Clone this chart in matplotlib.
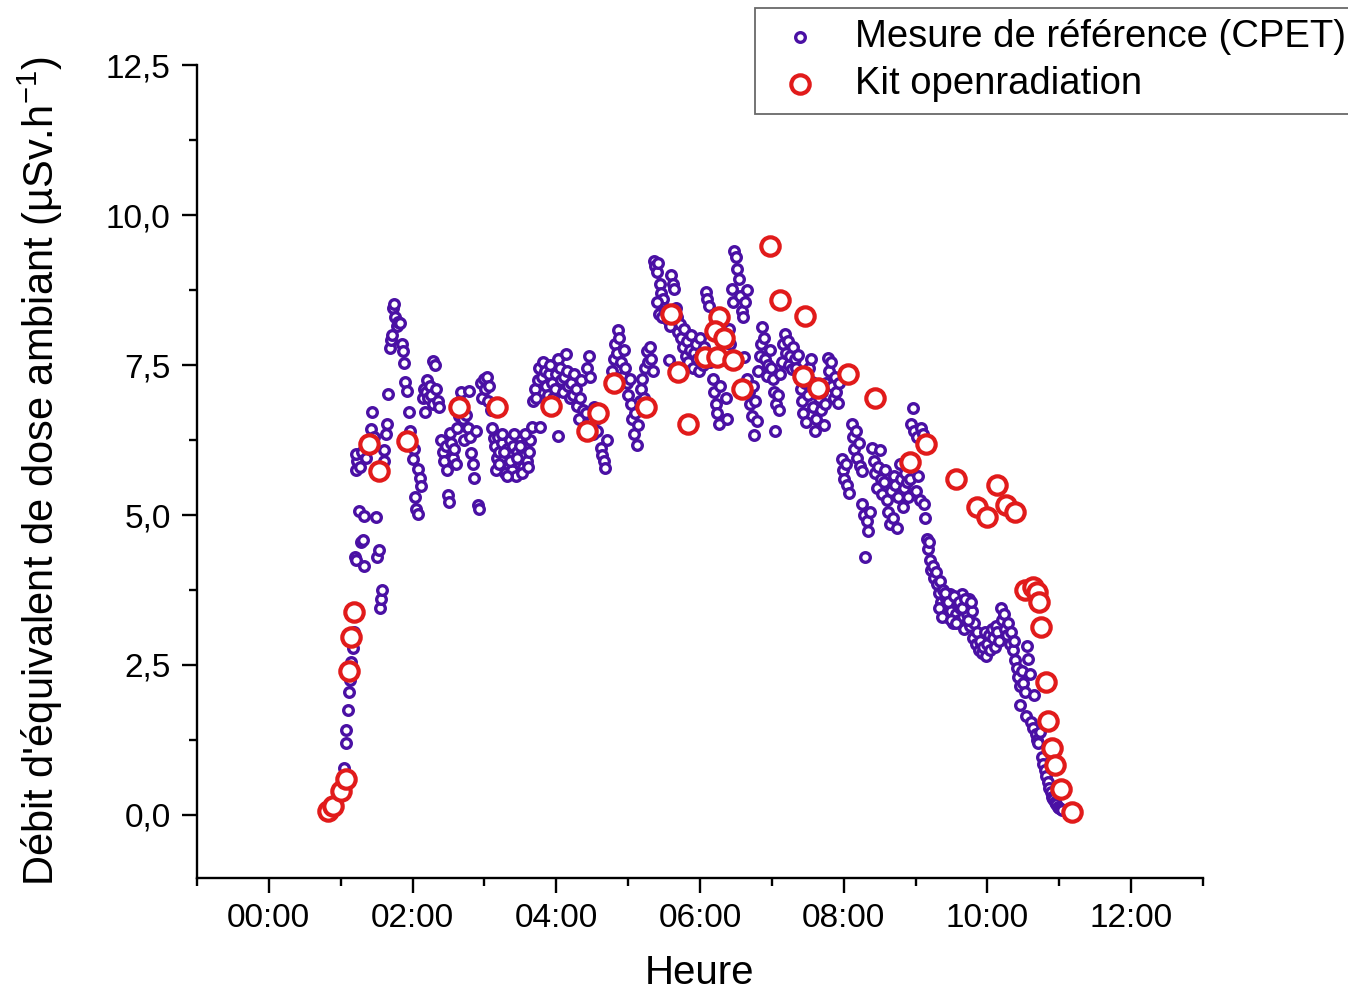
import matplotlib
matplotlib.use('Agg')
import matplotlib.pyplot as plt
from matplotlib.ticker import MultipleLocator, FuncFormatter

plt.rcParams['font.family'] = ['Liberation Sans', 'DejaVu Sans']
plt.rcParams['mathtext.fontset'] = 'custom'
plt.rcParams['mathtext.rm'] = 'Liberation Sans'
plt.rcParams['mathtext.it'] = 'Liberation Sans'

# reference measurement (CPET), time in hours, dose rate in uSv/h
cpet_h = [
    # rise
    0.87, 0.92, 0.97, 1.02, 1.05, 1.07, 1.08, 1.10, 1.12, 1.13, 1.15, 1.17, 1.18,
    1.20, 1.22, 1.21, 1.23, 1.22, 1.25, 1.27, 1.28, 1.30, 1.31, 1.32, 1.32, 1.35, 1.38, 1.42, 1.44, 1.46, 1.49, 1.51, 1.53, 1.55, 1.56, 1.57,
    1.60, 1.61, 1.63, 1.64, 1.66, 1.68, 1.70, 1.72, 1.73, 1.74, 1.76, 1.78, 1.80, 1.83, 1.85, 1.87, 1.88, 1.90, 1.92, 1.95, 1.97,
    # 02:00 - 03:00
    2.00, 2.02, 2.03, 2.05, 2.07, 2.07, 2.10, 2.12, 2.14, 2.16, 2.17, 2.19, 2.20, 2.22, 2.24, 2.26, 2.28, 2.29, 2.31, 2.33, 2.35, 2.37,
    2.40, 2.42, 2.44, 2.46, 2.48, 2.50, 2.51, 2.52, 2.54, 2.56, 2.58, 2.60, 2.62, 2.64, 2.66, 2.68, 2.70, 2.72,
    2.75, 2.77, 2.79, 2.80, 2.82, 2.84, 2.86, 2.88, 2.91, 2.93, 2.95, 2.97, 2.99, 3.01, 3.03, 3.05, 3.07, 3.09, 3.11, 3.13,
    # blob 03:10 - 03:40
    3.15, 3.17, 3.19, 3.21, 3.23, 3.25, 3.27, 3.29, 3.31, 3.33, 3.35, 3.37, 3.38, 3.40, 3.42, 3.44, 3.46, 3.48, 3.50, 3.52, 3.54, 3.56, 3.58, 3.60, 3.62, 3.64,
    3.16, 3.20, 3.24, 3.28, 3.32, 3.36, 3.41, 3.45, 3.49, 3.53, 3.57, 3.61,
    # 03:40 - 04:35
    3.66, 3.68, 3.70, 3.72, 3.74, 3.76, 3.78, 3.80, 3.82, 3.84,
    3.86, 3.88, 3.90, 3.92, 3.94, 3.96, 3.98, 4.00, 4.02, 4.03,
    4.05, 4.07, 4.09, 4.11, 4.13, 4.15, 4.17, 4.19, 4.21, 4.23,
    4.25, 4.27, 4.29, 4.31, 4.33, 4.35, 4.37, 4.39, 4.41, 4.43,
    4.45, 4.47, 4.49, 4.51, 4.53, 4.55, 4.57,
    4.62, 4.64, 4.66, 4.68, 4.70,
    # 04:45 - 05:20
    4.76, 4.78, 4.80, 4.82, 4.84, 4.86, 4.88, 4.90, 4.92, 4.94, 4.96, 4.98, 5.00, 5.02, 5.04,
    5.06, 5.08, 5.10, 5.12, 5.14, 5.16, 5.18, 5.20, 5.22, 5.24, 5.26, 5.28, 5.30, 5.32, 5.34,
    # peak near 05:25
    5.36, 5.38, 5.40, 5.42, 5.44, 5.46, 5.48, 5.50, 5.40, 5.43, 5.47, 5.52, 5.55, 5.57, 5.58, 5.60, 5.62, 5.64, 5.66, 5.68, 5.70, 5.72, 5.74,
    5.76, 5.78, 5.80, 5.82, 5.84, 5.86, 5.88, 5.90, 5.92, 5.94, 5.96, 5.98, 6.00, 6.02, 6.04, 6.06, 6.08, 6.10, 6.12, 6.14,
    6.18, 6.20, 6.22, 6.24, 6.26, 6.28, 6.30, 6.32, 6.34, 6.36, 6.38, 6.40, 6.42, 6.44, 6.46,
    6.48, 6.50, 6.52, 6.54, 6.56, 6.58, 6.60, 6.61, 6.63, 6.65,
    6.66, 6.68, 6.70, 6.72, 6.74, 6.75, 6.77, 6.79, 6.81, 6.83, 6.85, 6.87, 6.89, 6.91, 6.93, 6.95, 6.97, 6.99, 7.01, 7.03, 7.04, 7.06, 7.08, 7.10,
    7.12, 7.14, 7.16, 7.18, 7.20, 7.22, 7.24, 7.26, 7.28, 7.30, 7.32, 7.34, 7.36, 7.38, 7.40, 7.42, 7.44, 7.46, 7.48, 7.50, 7.52, 7.54, 7.56, 7.58, 7.60, 7.62,
    7.64, 7.66, 7.68, 7.70, 7.72, 7.74, 7.76, 7.78, 7.80, 7.82, 7.84, 7.86, 7.88, 7.90, 7.92, 7.94,
    # decline
    7.97, 7.99, 8.01, 8.03, 8.05, 8.07, 8.11, 8.13, 8.15, 8.17, 8.19, 8.21, 8.23, 8.25, 8.26, 8.28, 8.30, 8.32, 8.34, 8.36,
    8.40, 8.42, 8.44, 8.46, 8.48, 8.50, 8.52, 8.54, 8.56, 8.58, 8.60, 8.62, 8.64, 8.66, 8.68, 8.70, 8.72, 8.74, 8.76, 8.78, 8.80, 8.82,
    8.84, 8.86, 8.88, 8.90, 8.92, 8.94, 8.96, 8.98, 9.00, 9.02, 9.04, 9.06, 9.08, 9.10, 9.12, 9.13,
    9.16, 9.17, 9.19, 9.20, 9.22, 9.24, 9.26, 9.28, 9.30, 9.32,
    9.34, 9.36, 9.38, 9.40, 9.42, 9.44, 9.46, 9.48, 9.50, 9.52,
    9.54, 9.56, 9.58, 9.60, 9.62, 9.64, 9.66, 9.68, 9.70, 9.72,
    9.74, 9.76, 9.78, 9.80, 9.82, 9.84, 9.86, 9.88,
    9.33, 9.37, 9.41, 9.45, 9.49, 9.53, 9.57, 9.61, 9.65, 9.69, 9.73, 9.77,
    9.90, 9.92, 9.94, 9.96, 9.98, 10.00, 10.02, 10.04, 10.06, 10.08, 10.10, 10.12, 10.14, 10.16, 10.19, 10.21, 10.23, 10.25, 10.27, 10.29, 10.31, 10.33, 10.35, 10.37,
    10.39, 10.41, 10.43, 10.45, 10.46, 10.48, 10.50, 10.52, 10.54, 10.55, 10.57, 10.59, 10.61, 10.63, 10.65, 10.67, 10.69, 10.71, 10.73,
    10.76, 10.78, 10.80, 10.82, 10.84, 10.86, 10.88, 10.90, 10.92, 10.94, 10.96, 10.98, 11.00, 11.02, 11.04,
]
cpet_dose = [
    0.06, 0.15, 0.30, 0.55, 0.78, 1.20, 1.42, 1.75, 2.05, 2.25, 2.55, 2.78, 3.05,
    4.30, 4.25, 5.75, 5.90, 6.02, 5.07, 5.80, 4.55, 6.05, 4.58, 4.98, 4.15, 5.95, 6.20, 6.43, 6.72, 6.30, 4.97, 4.30, 4.42, 3.45, 3.60, 3.75,
    5.90, 6.08, 6.35, 6.52, 7.02, 7.78, 7.92, 8.00, 8.45, 8.52, 8.30, 8.15, 8.22, 8.20, 7.85, 7.73, 7.53, 7.22, 7.07, 6.72, 6.40,
    5.93, 6.10, 5.30, 5.10, 5.77, 5.02, 5.62, 5.48, 6.95, 7.10, 6.72, 7.05, 7.25, 6.95, 7.15, 7.00, 6.85, 7.57, 7.50, 7.10, 6.90, 6.80,
    6.25, 6.05, 5.90, 6.15, 5.75, 5.33, 5.22, 6.37, 6.20, 5.95, 6.10, 5.85, 6.45, 6.65, 6.90, 7.05, 6.60, 6.25,
    6.67, 6.45, 7.07, 6.30, 6.03, 5.85, 5.62, 6.40, 5.17, 5.10, 7.20, 6.95, 7.27, 7.10, 7.30, 6.90, 7.15, 6.75, 6.45, 6.28,
    6.15, 5.95, 6.30, 6.05, 5.80, 6.20, 5.95, 5.70, 6.10, 5.85, 6.25, 6.00, 5.75, 6.15, 5.90, 5.65, 6.05, 6.30, 5.85, 6.10, 5.80, 6.00, 6.20, 5.90, 6.05, 6.25,
    5.75, 5.85, 6.35, 6.05, 5.65, 5.90, 6.35, 5.95, 6.15, 5.70, 6.35, 5.80,
    6.47, 6.90, 7.10, 6.95, 7.25, 7.45, 6.47, 7.30, 7.55, 7.40,
    7.15, 7.00, 7.35, 7.50, 7.20, 6.95, 7.10, 7.35, 7.60, 6.32,
    7.45, 7.25, 7.05, 7.30, 7.68, 7.40, 7.15, 6.95, 7.20, 7.00,
    7.35, 7.10, 6.82, 6.60, 6.95, 7.25, 6.75, 6.45, 6.70, 7.45,
    7.65, 7.30, 6.55, 6.35, 6.80, 6.60, 6.40,
    6.12, 6.00, 5.90, 5.78, 6.25,
    7.15, 7.40, 7.60, 7.85, 7.70, 8.08, 7.95, 7.55, 7.30, 7.75, 7.45, 7.20, 7.00, 7.27, 6.85,
    6.60, 6.35, 6.70, 6.17, 6.50, 6.90, 7.10, 7.27, 6.95, 7.45, 7.73, 7.55, 7.80, 7.60, 7.40,
    9.23, 9.15, 9.05, 9.20, 8.85, 8.70, 8.60, 8.45, 8.55, 8.35, 8.30, 8.40, 8.25, 7.58, 8.15, 9.00, 8.85, 8.77, 8.45, 8.30, 8.05, 8.18, 7.95,
    7.80, 8.10, 7.65, 7.90, 7.55, 7.75, 8.00, 7.45, 7.70, 7.85, 7.60, 7.40, 7.95, 7.70, 7.50, 7.80, 8.72, 8.60, 8.48, 7.55,
    7.27, 7.05, 6.85, 6.70, 6.52, 7.15, 8.18, 8.00, 7.90, 6.95, 6.60, 8.10, 7.85, 8.77, 8.55,
    9.40, 9.30, 9.10, 8.93, 8.65, 8.40, 8.30, 7.63, 8.55, 8.75,
    7.27, 7.05, 6.85, 6.65, 7.15, 6.33, 6.90, 6.57, 7.40, 7.65, 7.85, 8.13, 7.95, 7.60, 7.32, 7.50, 7.75, 7.45, 7.27, 7.05, 6.40, 6.85, 7.00, 6.75,
    7.35, 7.55, 7.85, 8.02, 7.70, 7.90, 7.50, 7.65, 7.43, 7.80, 7.60, 7.45, 7.67, 7.30, 7.10, 6.90, 6.70, 7.20, 6.55, 7.00, 7.45, 7.60, 7.22, 6.80, 6.40, 6.60,
    7.10, 6.95, 6.75, 7.05, 6.50, 6.85, 7.20, 7.62, 7.40, 7.55, 7.15, 6.95, 7.30, 7.05, 6.87, 7.20,
    5.93, 5.75, 5.60, 5.85, 5.50, 5.37, 6.52, 6.30, 6.10, 6.40, 5.95, 6.20, 5.82, 5.73, 5.18, 5.00, 4.30, 4.90, 4.73, 5.05,
    6.12, 5.90, 5.70, 5.45, 5.80, 6.08, 5.60, 5.35, 5.55, 5.75, 5.25, 5.05, 4.85, 5.40, 4.95, 5.65, 5.50, 4.78, 5.30, 5.85, 5.60, 5.13,
    5.45, 5.70, 5.55, 5.30, 5.60, 6.52, 6.78, 6.40, 5.40, 6.30, 5.65, 5.25, 6.45, 6.35, 5.18, 4.95,
    4.60, 4.43, 4.55, 4.25, 4.08, 4.15, 3.95, 4.05, 3.85, 3.70,
    3.90, 3.55, 3.75, 3.45, 3.60, 3.30, 3.50, 3.68, 3.40, 3.20,
    3.55, 3.35, 3.62, 3.25, 3.45, 3.68, 3.30, 3.10, 3.50, 3.35,
    3.60, 3.15, 3.40, 2.95, 3.20, 2.85, 3.05, 2.75,
    3.45, 3.30, 3.70, 3.55, 3.25, 3.65, 3.20, 3.55, 3.45, 3.60, 3.25, 3.55,
    2.90, 2.70, 2.80, 3.05, 2.65, 2.85, 3.00, 2.75, 3.10, 2.95, 2.80, 3.15, 3.05, 2.90, 3.45, 3.25, 3.35, 3.10, 3.00, 3.20, 2.85, 3.05, 2.75, 2.90,
    2.58, 2.45, 2.30, 2.15, 1.83, 2.40, 2.20, 2.05, 1.65, 2.82, 2.60, 2.35, 1.55, 1.45, 2.00, 1.35, 1.25, 1.20, 1.38,
    0.97, 0.85, 0.75, 0.65, 0.55, 0.45, 0.38, 0.30, 0.26, 0.22, 0.18, 0.14, 0.12, 0.10, 0.08,
]

# openradiation kit readings
kit_h = [0.83, 0.89, 1.00, 1.07, 1.11, 1.15, 1.18, 1.40, 1.54, 1.93,
         2.65, 3.17, 3.93, 4.43, 4.58, 4.81, 5.25, 5.60, 5.70, 5.83,
         6.07, 6.26, 6.21, 6.24, 6.33, 6.46, 6.58, 6.98, 7.12, 7.46,
         7.43, 7.64, 8.06, 8.44, 8.92, 9.15, 9.56, 9.85, 9.99, 10.13,
         10.26, 10.39, 10.53, 10.63, 10.69, 10.72, 10.74, 10.81, 10.85, 10.90,
         10.94, 11.03, 11.18]
kit_dose = [0.07, 0.15, 0.40, 0.60, 2.40, 2.97, 3.38, 6.18, 5.73, 6.23,
            6.80, 6.80, 6.82, 6.40, 6.70, 7.20, 6.80, 8.35, 7.38, 6.52,
            7.63, 8.30, 8.07, 7.63, 7.95, 7.58, 7.10, 9.48, 8.58, 8.32,
            7.32, 7.12, 7.35, 6.95, 5.88, 6.18, 5.60, 5.13, 4.97, 5.50,
            5.17, 5.05, 3.75, 3.80, 3.72, 3.55, 3.13, 2.22, 1.57, 1.12,
            0.83, 0.43, 0.05]

hour_ticks = [0, 2, 4, 6, 8, 10, 12]
dose_ticks = [0, 2.5, 5, 7.5, 10, 12.5]

purple = '#4a10a4'
red = '#e11b1b'

fig = plt.figure(figsize=(13.48, 9.96), dpi=100)
ax = fig.add_axes([0.1461, 0.1185, 0.7463, 0.8162])

ax.scatter(cpet_h, cpet_dose, s=48, facecolors='white', edgecolors=purple,
           linewidths=2.4, label='Mesure de référence (CPET)', zorder=3)
ax.scatter(kit_h, kit_dose, s=175, facecolors='white', edgecolors=red,
           linewidths=3.0, label='Kit openradiation', zorder=4)

ax.set_xlim(-1, 13)
ax.set_ylim(-1.05, 12.5)
ax.set_xticks(hour_ticks)
ax.xaxis.set_major_formatter(FuncFormatter(lambda v, p: '%02d:00' % int(round(v))))
ax.xaxis.set_minor_locator(MultipleLocator(1))
ax.set_yticks(dose_ticks)
ax.yaxis.set_major_formatter(FuncFormatter(lambda v, p: ('%.1f' % v).replace('.', ',')))
ax.yaxis.set_minor_locator(MultipleLocator(1.25))

for s in ['top', 'right']:
    ax.spines[s].set_visible(False)
for s in ['left', 'bottom']:
    ax.spines[s].set_linewidth(1.7)

ax.tick_params(which='major', direction='out', length=11, width=1.7, labelsize=24)
ax.tick_params(axis='y', which='major', pad=8)
ax.tick_params(axis='x', which='major', pad=7)
ax.tick_params(which='minor', direction='out', length=5.5, width=1.7)

ax.set_xlabel('Heure', fontsize=29)
ax.xaxis.set_label_coords(0.5, -0.094)
ax.set_ylabel("Débit d'équivalent de dose ambiant (µSv.h$^{-1}$)", fontsize=30)
ax.yaxis.set_label_coords(-0.131, 0.5)

leg = ax.legend(loc='upper left', bbox_to_anchor=(0.56, 0.992), bbox_transform=fig.transFigure,
                fontsize=27.5, frameon=True, fancybox=False, edgecolor='#444444',
                handletextpad=0.57, borderpad=0.3, labelspacing=0.28, handlelength=1.76,
                scatterpoints=1, borderaxespad=0)
leg.get_frame().set_linewidth(1.3)

fig.savefig('out.png', dpi=100)
